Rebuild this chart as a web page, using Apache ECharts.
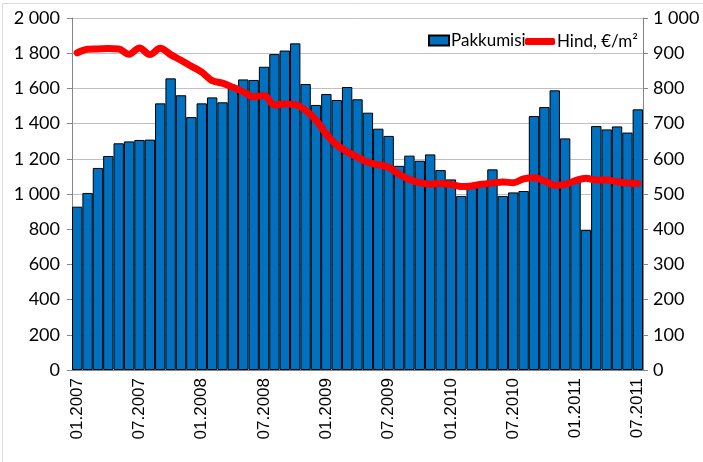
<!DOCTYPE html>
<html>
<head>
<meta charset="utf-8">
<script src="https://cdn.jsdelivr.net/npm/echarts@6/dist/echarts.min.js"></script>
<style>
  html, body { margin: 0; padding: 0; background: #fff; }
  #chart { width: 703px; height: 462px; }
</style>
</head>
<body>
<div id="chart"></div>
<script>
// kuud 01.2007 - 07.2011
var months = [
  '01.2007','02.2007','03.2007','04.2007','05.2007','06.2007','07.2007','08.2007','09.2007','10.2007','11.2007','12.2007',
  '01.2008','02.2008','03.2008','04.2008','05.2008','06.2008','07.2008','08.2008','09.2008','10.2008','11.2008','12.2008',
  '01.2009','02.2009','03.2009','04.2009','05.2009','06.2009','07.2009','08.2009','09.2009','10.2009','11.2009','12.2009',
  '01.2010','02.2010','03.2010','04.2010','05.2010','06.2010','07.2010','08.2010','09.2010','10.2010','11.2010','12.2010',
  '01.2011','02.2011','03.2011','04.2011','05.2011','06.2011','07.2011'
];
var pakkumisi = [
  928, 1006, 1148, 1216, 1288, 1299, 1307, 1309, 1515, 1657, 1561, 1437,
  1515, 1549, 1521, 1606, 1651, 1648, 1723, 1795, 1815, 1856, 1625, 1506,
  1568, 1534, 1608, 1538, 1462, 1371, 1330, 1160, 1218, 1189, 1225, 1136,
  1083, 989, 1050, 1060, 1140, 989, 1009, 1017, 1443, 1494, 1589, 1316,
  1075, 795, 1386, 1367, 1384, 1349, 1481
];
var hind = [
  901, 911, 912, 913, 912, 897, 915, 896, 914, 896, 880, 863,
  846, 822, 815, 803, 790, 776, 780, 753, 756, 754, 738, 710,
  670, 640, 620, 605, 590, 583, 576, 556, 541, 532, 528, 530,
  527, 521, 523, 528, 531, 534, 532, 543, 546, 537, 525, 527,
  538, 545, 540, 540, 535, 531, 530
];

var numFont = 'Lato';
function fmt(v) {
  // tuhandete eraldaja on tühik
  return String(v).replace(/\B(?=(\d{3})+(?!\d))/g, ' ');
}

var myChart = echarts.init(document.getElementById('chart'));
var option = {
  animation: false,
  backgroundColor: '#fff',
  graphic: [{
    type: 'rect',
    shape: { x: 2.5, y: 3.5, width: 720, height: 480 },
    style: { fill: 'none', stroke: '#d9d9d9', lineWidth: 1 },
    silent: true
  }],
  grid: { left: 72, right: 60, top: 18, bottom: 92, containLabel: false },
  legend: [{
    data: ['Pakkumisi'],
    left: 423, top: 27,
    itemWidth: 20, itemHeight: 10,
    icon: 'rect',
    textStyle: { fontFamily: numFont, fontSize: 17, color: '#000', padding: [0, 0, 0, -3] }
  }, {
    data: [{ name: 'Hind, €/m²', icon: 'roundRect' }],
    left: 520, top: 28,
    itemWidth: 30, itemHeight: 7,
    itemStyle: { color: '#ff0000' },
    textStyle: { fontFamily: numFont, fontSize: 17, color: '#000', padding: [0, 0, 0, -3] }
  }],
  xAxis: {
    type: 'category',
    data: months,
    axisLine: { lineStyle: { color: '#868686' } },
    axisTick: { interval: 5, length: 6, lineStyle: { color: '#868686' } },
    axisLabel: {
      interval: 5,
      rotate: 90,
      fontFamily: 'Liberation Sans',
      fontSize: 17,
      color: '#000',
      margin: 8
    },
    splitLine: { show: false }
  },
  yAxis: [{
    type: 'value',
    min: 0, max: 2000, interval: 200,
    axisLine: { show: true, lineStyle: { color: '#868686' } },
    axisTick: { show: true, length: 5, lineStyle: { color: '#868686' } },
    axisLabel: { fontFamily: numFont, fontSize: 18, color: '#000', margin: 12, formatter: fmt },
    splitLine: { lineStyle: { color: '#c0c0c0', width: 1 } }
  }, {
    type: 'value',
    min: 0, max: 1000, interval: 100,
    axisLine: { show: true, lineStyle: { color: '#868686' } },
    axisTick: { show: true, length: 5, lineStyle: { color: '#868686' } },
    axisLabel: { fontFamily: numFont, fontSize: 18, color: '#000', margin: 10, formatter: fmt },
    splitLine: { show: false }
  }],
  series: [{
    name: 'Pakkumisi',
    type: 'bar',
    data: pakkumisi,
    barCategoryGap: 0,
    itemStyle: { color: '#0070c0', borderColor: '#000', borderWidth: 1 }
  }, {
    name: 'Hind, €/m²',
    type: 'line',
    yAxisIndex: 1,
    data: hind,
    smooth: 0.35,
    showSymbol: false,
    lineStyle: { color: '#ff0000', width: 7, cap: 'round', join: 'round' },
    itemStyle: { color: '#ff0000' }
  }]
};
option && myChart.setOption(option);
</script>
</body>
</html>
